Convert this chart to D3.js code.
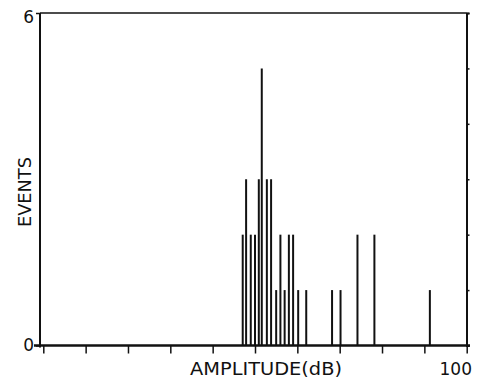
<!DOCTYPE html>
<html>
<head>
<meta charset="utf-8">
<script src="https://cdn.jsdelivr.net/npm/d3@7"></script>
<style>
body{margin:0;background:#fff;}
text{font-family:"DejaVu Sans",sans-serif;fill:#111;}
</style>
</head>
<body>
<svg id="chart" width="481" height="378"></svg>
<script>
//amplitude (dB) of each bar, and event count
var amplitude = [47.1, 47.9, 49.0, 50.0, 50.9, 51.6, 52.8, 53.8, 55.0, 56.0, 57.0, 58.0, 59.0, 60.2, 62.1, 68.2, 70.2, 74.2, 78.2, 91.3];
var events    = [2, 3, 2, 2, 3, 5, 3, 3, 1, 2, 1, 2, 2, 1, 1, 1, 1, 2, 2, 1];
var xTicks = [0, 10, 20, 30, 40, 50, 60, 70, 80, 90, 100];
var yTicks = [0, 1, 2, 3, 4, 5, 6];
var yLabels = [0, 6];

var s = d3.select("#chart");
var x = d3.scaleLinear().domain([0, 100]).range([43.3, 466.7]);
var y = d3.scaleLinear().domain([0, 6]).range([345.5, 13]);

//frame
s.append("line").attr("x1", 40).attr("x2", 466.5).attr("y1", y(6)).attr("y2", y(6))
	.attr("stroke", "#111").attr("stroke-width", 1.5);
s.append("line").attr("x1", 40).attr("x2", 40).attr("y1", y(6)).attr("y2", y(0) + 2)
	.attr("stroke", "#111").attr("stroke-width", 2);

//right axis, ticks outward
var right = s.append("g").attr("transform", "translate(466.5,0)")
	.call(d3.axisRight(y).tickValues(yTicks).tickSize(3).tickFormat(""));
right.select(".domain").attr("stroke-width", 2).attr("stroke", "#111");
right.selectAll(".tick line").attr("stroke-width", 1.5).attr("stroke", "#111");

//left axis labels 0 and 6
var left = s.append("g").attr("transform", "translate(40,0)")
	.call(d3.axisLeft(y).tickValues(yLabels).tickSize(4).tickPadding(2).tickFormat(d3.format("d")));
left.select(".domain").remove();
left.selectAll(".tick line").attr("stroke-width", 1.5).attr("stroke", "#111");
left.selectAll(".tick text").style("font-size", "17px").attr("font-family", null)
	.attr("y", function(d){ return d == 6 ? 4 : 0; });

//bottom axis
var bottom = s.append("g").attr("transform", "translate(0," + y(0) + ")")
	.call(d3.axisBottom(x).tickValues(xTicks).tickSize(8).tickFormat(""));
bottom.select(".domain").attr("d", "M34,0H470").attr("stroke-width", 2.5).attr("stroke", "#111");
bottom.selectAll(".tick line").attr("stroke-width", 1.5).attr("stroke", "#111");

s.append("text").attr("x", 472).attr("y", 375)
	.style("text-anchor", "end").style("font-size", "17px").text("100");

//bars
s.selectAll("line.bar").data(amplitude).enter().append("line")
	.attr("class", "bar")
	.attr("x1", function(d){ return x(d); })
	.attr("x2", function(d){ return x(d); })
	.attr("y1", y(0))
	.attr("y2", function(d, i){ return y(events[i]); })
	.attr("stroke", "#111").attr("stroke-width", 2);

//axis titles
s.append("text").attr("x", 266).attr("y", 375)
	.style("text-anchor", "middle").style("font-size", "17px")
	.attr("textLength", 152).attr("lengthAdjust", "spacingAndGlyphs").text("AMPLITUDE(dB)");
s.append("text").attr("transform", "translate(31,192) rotate(-90)")
	.style("text-anchor", "middle").style("font-size", "17px")
	.attr("textLength", 70).attr("lengthAdjust", "spacingAndGlyphs").text("EVENTS");
</script>
</body>
</html>
